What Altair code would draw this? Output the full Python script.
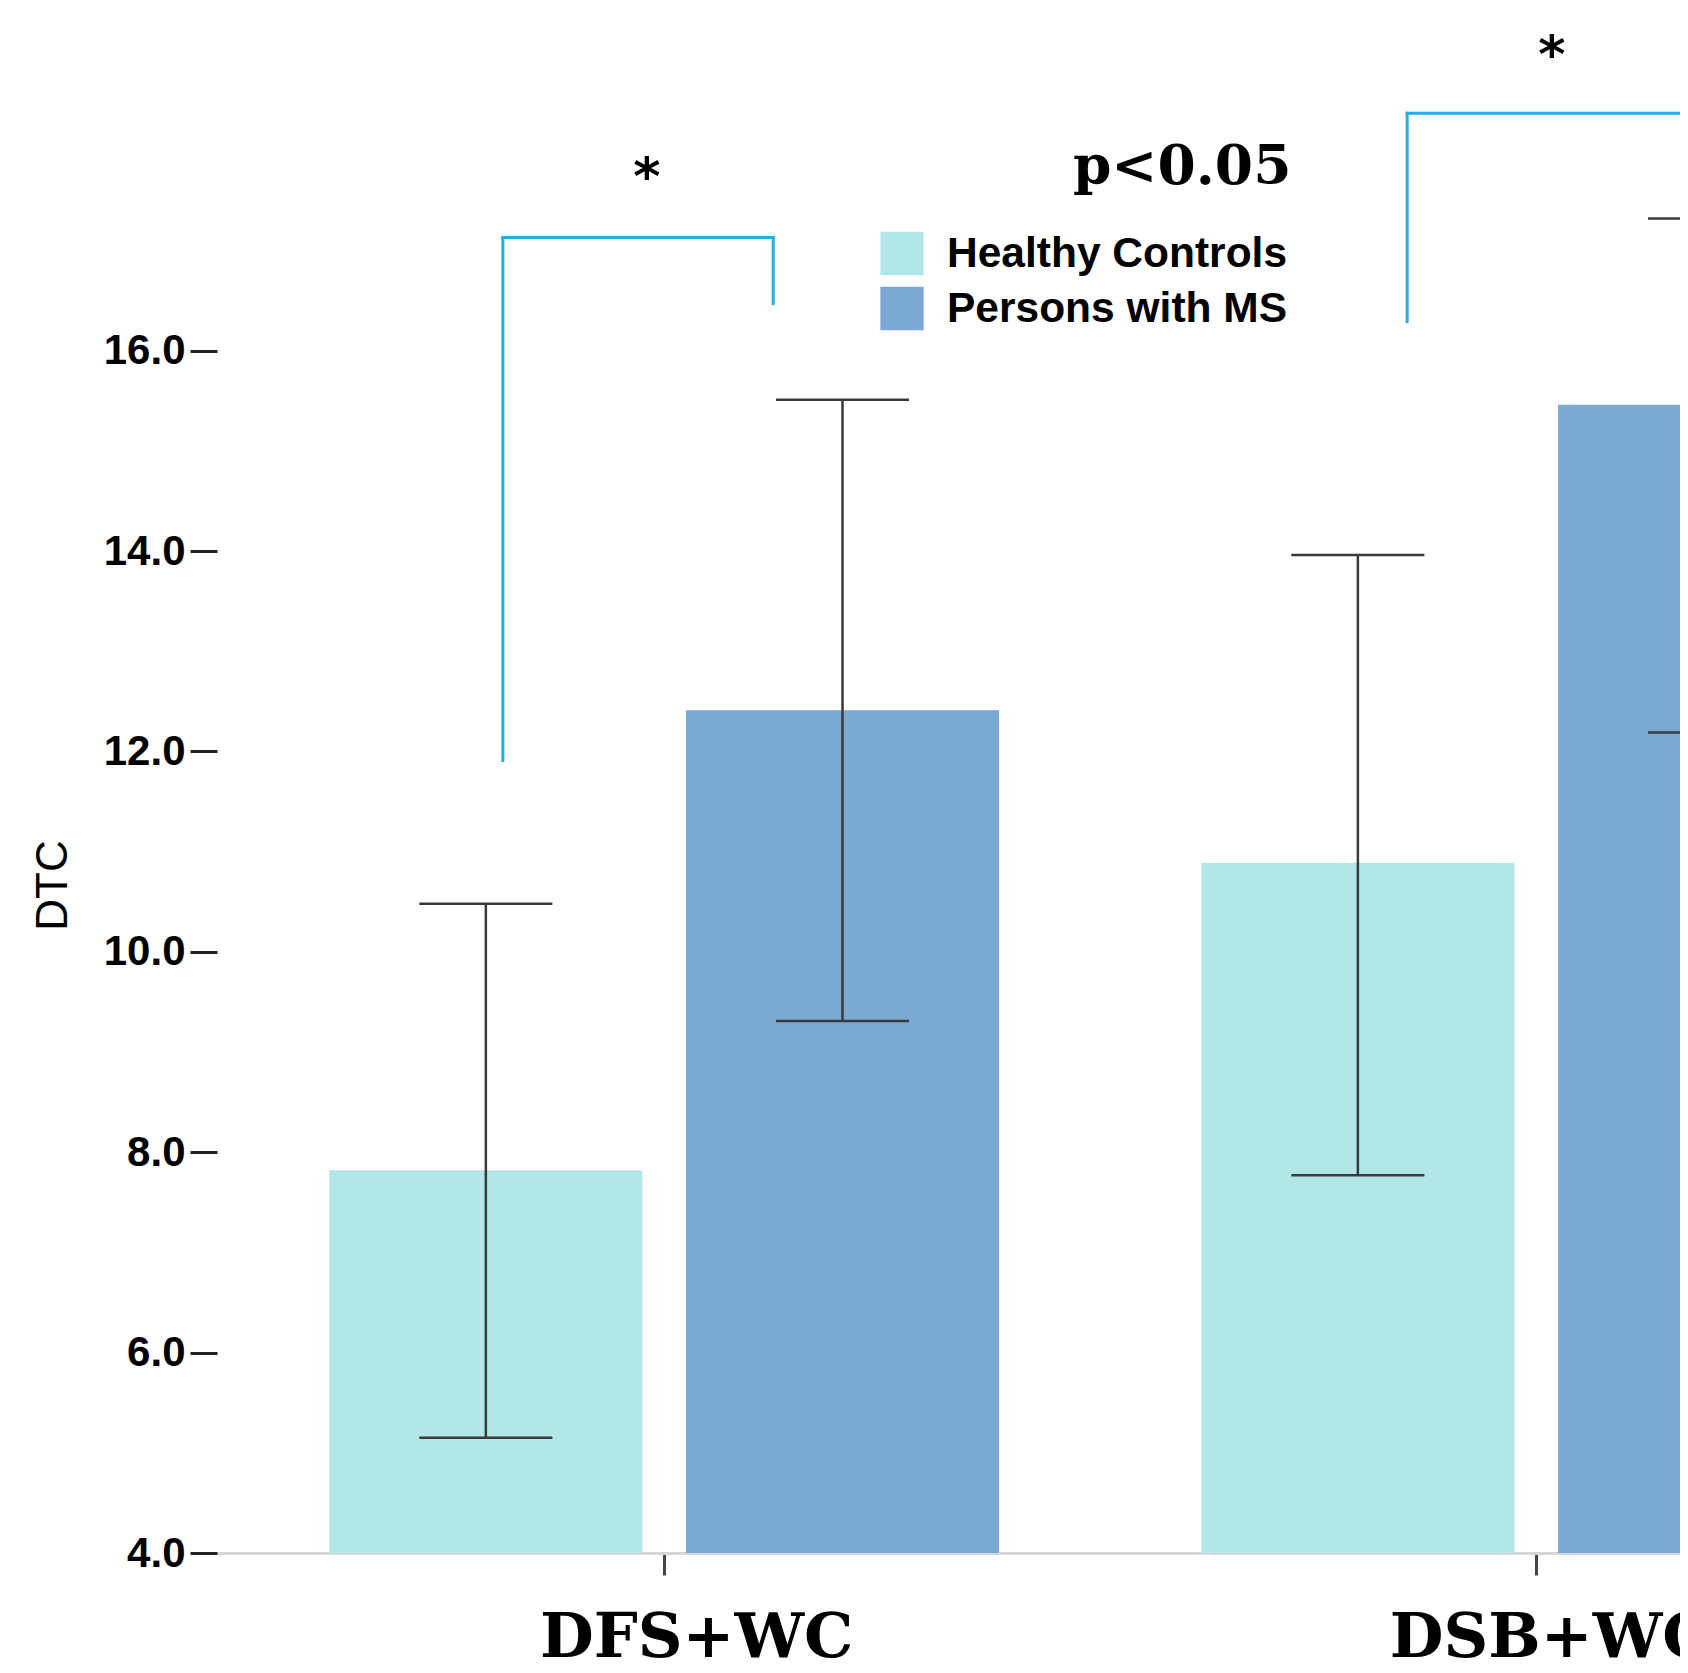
import altair as alt
import pandas as pd

# ---------------- data ----------------
groups = ["DFS+WC", "DSB+WC"]
series = ["Healthy Controls", "Persons with MS"]
colors = ["#b3e6e7", "#7ba8d5"]

mean_hc = [7.82, 10.89]
mean_ms = [12.41, 15.46]
low_hc = [5.15, 7.77]
low_ms = [9.31, 12.19]
up_hc = [10.48, 13.96]
up_ms = [15.51, 17.32]

# significance annotations (x in category units, y in DTC units)
br_left_x = [-0.185, 0.852]
br_right_x = [0.125, 1.30]
br_left_foot = [11.91, 16.29]
br_right_foot = [16.47, 16.29]
br_top = [17.13, 18.37]
star_x = [-0.02, 1.018]
star_y = [17.82, 19.04]
p_label = "p<0.05"
p_x = [0.594]
p_y = [17.66]

y_ticks = [4, 6, 8, 10, 12, 14, 16]

# ---------------- layout constants ----------------
BAR_IN, BAR_OUT = 0.025, 0.384
CAP = 0.0763
XDOM = [-0.5128, 1.1649]
YDOM = [4, 19.42]

rows = []
for i, g in enumerate(groups):
    for s, m, lo, up, side in [
        (series[0], mean_hc[i], low_hc[i], up_hc[i], -1),
        (series[1], mean_ms[i], low_ms[i], up_ms[i], 1),
    ]:
        a = i + side * BAR_IN
        b = i + side * BAR_OUT
        c = (a + b) / 2
        rows.append(dict(group=g, series=s, mean=m, lo=lo, up=up,
                         x1=min(a, b), x2=max(a, b), xc=c,
                         c1=c - CAP, c2=c + CAP))
bars = pd.DataFrame(rows)

segs = []
for k in range(len(br_top)):
    segs.append(dict(x=br_left_x[k], x2=br_left_x[k], y=br_left_foot[k], y2=br_top[k]))
    segs.append(dict(x=br_left_x[k], x2=br_right_x[k], y=br_top[k], y2=br_top[k]))
    segs.append(dict(x=br_right_x[k], x2=br_right_x[k], y=br_right_foot[k], y2=br_top[k]))
segs = pd.DataFrame(segs)

stars = pd.DataFrame(dict(x=star_x, y=star_y, t=["*"] * len(star_x)))
ptxt = pd.DataFrame(dict(x=p_x, y=p_y, t=[p_label]))

xscale = alt.Scale(domain=XDOM, nice=False, zero=False)
yscale = alt.Scale(domain=YDOM, nice=False, zero=False)

label_expr = "[" + ",".join("'" + g + "'" for g in groups) + "][round(datum.value)]"

xaxis = alt.Axis(values=list(range(len(groups))), labelExpr=label_expr, title=None,
                 labelFont="DejaVu Serif", labelFontWeight="bold", labelFontSize=62,
                 labelColor="black", labelBaseline="alphabetic", labelPadding=81,
                 labelOffset={"condition": {"test": "datum.value == 1", "value": 14},
                              "value": 32},
                 labelFlush=False, labelOverlap=False, labelLimit=0,
                 tickSize=22, tickWidth=3, tickColor="#444444",
                 domainColor="#d6d6d6", domainWidth=3, grid=False)
yaxis = alt.Axis(values=y_ticks, format=".1f", title="DTC",
                 labelFont="Liberation Sans", labelFontWeight="bold", labelFontSize=42,
                 labelColor="black", labelPadding=5,
                 tickSize=27, tickWidth=3, tickColor="#222222",
                 domain=False, grid=False,
                 titleFont="Liberation Sans", titleFontWeight="normal", titleFontSize=44,
                 titleColor="black", titleAngle=270, titleX=-164, titleY=877,
                 titleAlign="center", titleBaseline="middle")

bar_layer = alt.Chart(bars).mark_bar(clip=True).encode(
    x=alt.X("x1:Q", scale=xscale, axis=xaxis),
    x2="x2:Q",
    y=alt.Y("mean:Q", scale=yscale, axis=yaxis),
    y2=alt.datum(4.0),
    color=alt.Color("series:N", scale=alt.Scale(domain=series, range=colors),
                    legend=alt.Legend(orient="none", legendX=663, legendY=223.5, title=None,
                                      symbolType="square", symbolSize=1880,
                                      symbolStrokeWidth=0, symbolOpacity=1,
                                      labelFont="Liberation Sans", labelFontWeight="bold",
                                      labelFontSize=42.5, labelColor="black",
                                      labelOffset=23, rowPadding=11, padding=0,
                                      labelLimit=0)),
)

err_v = alt.Chart(bars).mark_rule(color="#3a3a3a", strokeWidth=2.5, clip=True).encode(
    x="xc:Q", y="lo:Q", y2="up:Q")
err_lo = alt.Chart(bars).mark_rule(color="#3a3a3a", strokeWidth=2.5, clip=True).encode(
    x="c1:Q", x2="c2:Q", y="lo:Q")
err_up = alt.Chart(bars).mark_rule(color="#3a3a3a", strokeWidth=2.5, clip=True).encode(
    x="c1:Q", x2="c2:Q", y="up:Q")

brackets = alt.Chart(segs).mark_rule(color="#22aee6", strokeWidth=3, strokeCap="square",
                                     clip=True).encode(
    x="x:Q", x2="x2:Q", y="y:Q", y2="y2:Q")

star_layer = alt.Chart(stars).mark_text(font="DejaVu Sans", fontWeight="bold", fontSize=52,
                                        baseline="middle", align="center", dy=10,
                                        color="black").encode(
    x="x:Q", y="y:Q", text="t:N")

p_layer = alt.Chart(ptxt).mark_text(font="DejaVu Serif", fontWeight="bold", fontSize=55,
                                    baseline="alphabetic", align="center",
                                    color="black").encode(
    x="x:Q", y="y:Q", text="t:N")

chart = alt.layer(bar_layer, err_v, err_lo, err_up, brackets, star_layer, p_layer).properties(
    width=1463, height=1545,
    autosize=alt.AutoSizeParams(type="none"),
    padding={"left": 209, "top": 0, "right": 0, "bottom": 112},
    background="white",
).configure_view(stroke=None)

chart.save("out.html", embed_options={"renderer": "svg", "actions": False})
